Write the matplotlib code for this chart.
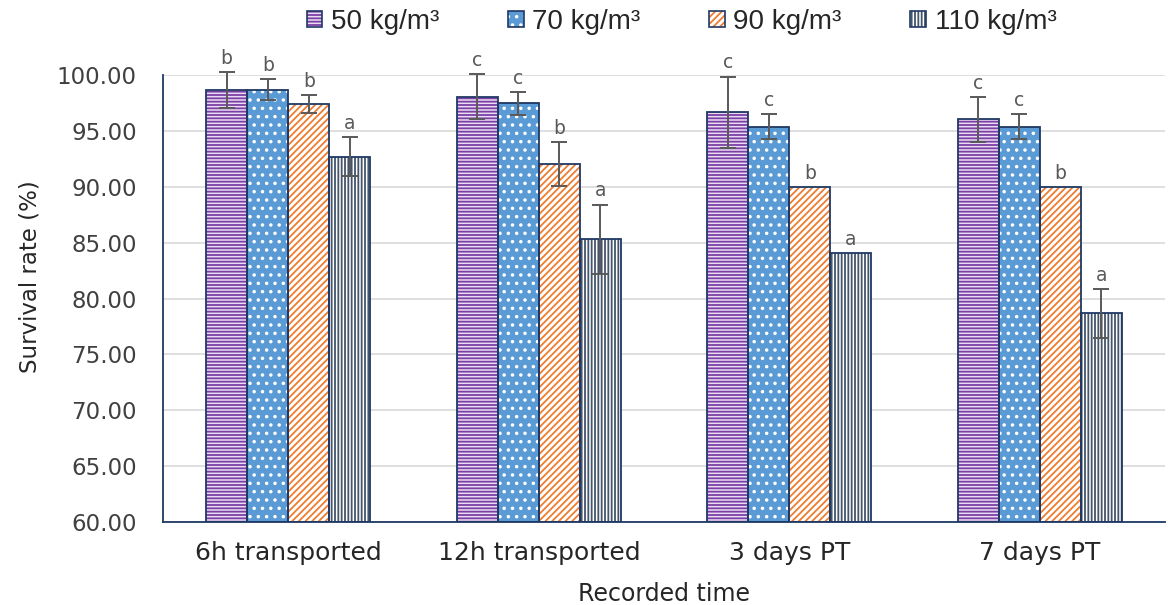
import matplotlib
matplotlib.use("Agg")
import matplotlib.pyplot as plt
import matplotlib.patches as mpatches
from matplotlib.legend_handler import HandlerPatch
from matplotlib.patches import Patch
import numpy as np

categories = ["6h transported", "12h transported", "3 days PT", "7 days PT"]
series = ["50 kg/m³", "70 kg/m³", "90 kg/m³", "110 kg/m³"]
v50 = [98.67, 98.06, 96.66, 96.03]
v70 = [98.67, 97.46, 95.38, 95.38]
v90 = [97.43, 92.04, 90.00, 90.00]
v110 = [92.69, 85.30, 84.10, 78.67]
e50 = [1.60, 2.03, 3.20, 2.00]
e70 = [0.95, 1.00, 1.10, 1.10]
e90 = [0.80, 1.97, 0.0, 0.0]
e110 = [1.75, 3.10, 0.0, 2.20]
l50 = ["b", "c", "c", "c"]
l70 = ["b", "c", "c", "c"]
l90 = ["b", "b", "b", "b"]
l110 = ["a", "a", "a", "a"]

values = [v50, v70, v90, v110]
errors = [e50, e70, e90, e110]
letters = [l50, l70, l90, l110]

plt.rcParams["hatch.linewidth"] = 1.3

navy = "#1F3864"
styles = [
    dict(face="#EADCF2", hatch="-----", hcol="#7B3FA6"),
    dict(face="#5B9BD5", hatch="..", hcol="#FFFFFF"),
    dict(face="#FFFFFF", hatch="/////", hcol="#ED7D31"),
    dict(face="#FFFFFF", hatch="|||||", hcol="#44546A"),
]

fig = plt.figure(figsize=(11.68, 6.05), dpi=100)
ax = fig.add_axes([0.1396, 0.1372, 0.8579, 0.7388])

x = np.arange(len(categories))
w = 0.164
for i, (vals, errs, labs, st) in enumerate(zip(values, errors, letters, styles)):
    pos = x + (i - 1.5) * w
    bottoms = [60] * len(vals)
    heights = [v - 60 for v in vals]
    ax.bar(pos, heights, w, bottom=bottoms, color=st["face"], hatch=st["hatch"],
           edgecolor=st["hcol"], linewidth=0, zorder=2)
    ax.bar(pos, heights, w, bottom=bottoms, fill=False, edgecolor=navy,
           linewidth=1.3, zorder=3)
    for p, v, e, lab in zip(pos, vals, errs, labs):
        if e > 0:
            ax.errorbar(p, v, yerr=e, color="#595959", capsize=6, capthick=1.4,
                        elinewidth=1.4, zorder=4, clip_on=False)
        ax.annotate(lab, (p, v + e), xytext=(0, 3), textcoords="offset points",
                    ha="center", va="bottom", fontsize=13.5, color="#595959",
                    family="DejaVu Sans", annotation_clip=False)

ax.set_xlim(-0.5, 3.5)
ax.set_ylim(60, 100)
ax.set_yticks(np.arange(60, 101, 5))
ax.set_yticklabels([f"{t:.2f}" for t in np.arange(60, 101, 5)], fontsize=16.5,
                   color="#404040", family="DejaVu Sans")
ax.set_xticks(x)
ax.set_xticklabels(categories, fontsize=18, color="#262626", family="DejaVu Sans")
ax.tick_params(axis="y", length=0, pad=19)
ax.tick_params(axis="x", length=0, pad=14)
ax.grid(axis="y", color="#D9D9D9", linewidth=1.2, zorder=0)
ax.set_axisbelow(True)
for s in ["top", "right"]:
    ax.spines[s].set_visible(False)
for s in ["left", "bottom"]:
    ax.spines[s].set_color(navy)
    ax.spines[s].set_linewidth(1.3)

ax.set_ylabel("Survival rate (%)", fontsize=16.5, color="#262626",
              family="DejaVu Sans")
ax.yaxis.set_label_coords(-0.121, 0.55)
ax.set_xlabel("Recorded time", fontsize=17, color="#262626", labelpad=12,
              family="DejaVu Sans")

handles = [Patch(facecolor=st["face"]) for st in styles]


class SquareHandler(HandlerPatch):
    def __init__(self, st):
        super().__init__()
        self.st = st

    def create_artists(self, legend, orig_handle, xdescent, ydescent, width, height, fontsize, trans):
        s = height
        x0 = width - s
        p1 = mpatches.Rectangle((x0, -ydescent), s, s, facecolor=self.st["face"],
                                hatch=self.st["hatch"], edgecolor=self.st["hcol"], linewidth=0,
                                transform=trans)
        p2 = mpatches.Rectangle((x0, -ydescent), s, s, fill=False, edgecolor=navy,
                                linewidth=1.2, transform=trans)
        return [p1, p2]


hmap = {h: SquareHandler(st) for h, st in zip(handles, styles)}
leg = fig.legend(handles, series, loc="upper center", bbox_to_anchor=(0.5843, 1.027), ncol=4,
                 frameon=False, handler_map=hmap, handlelength=0.5, handleheight=0.5,
                 handletextpad=0.3, columnspacing=2.55,
                 prop=dict(family="Liberation Sans", size=20))
for t in leg.get_texts():
    t.set_color("#262626")

fig.savefig("out.png", dpi=100)
